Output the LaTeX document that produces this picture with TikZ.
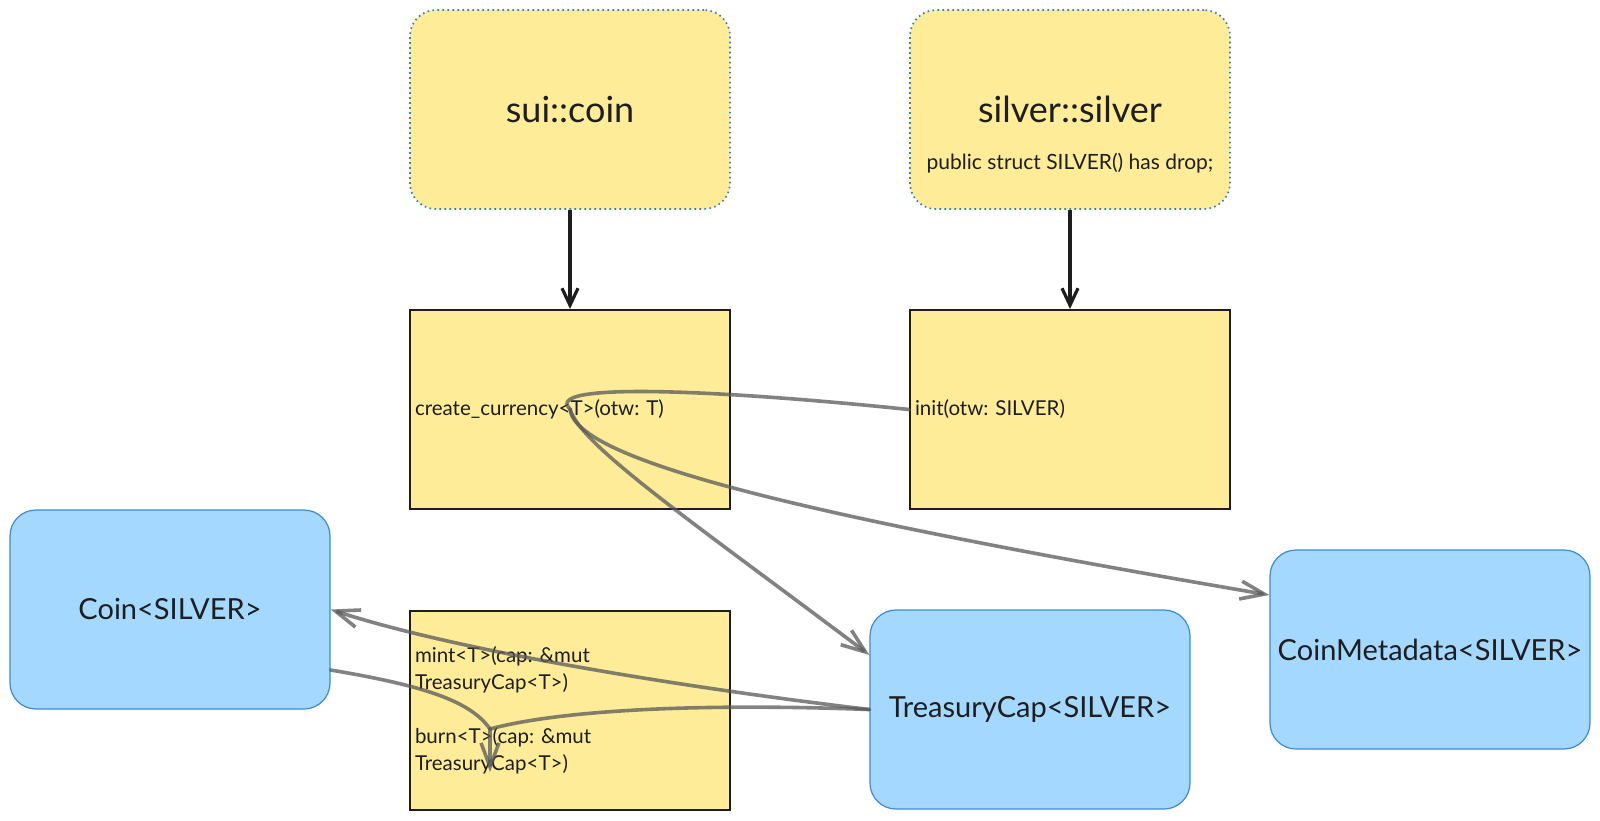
\documentclass[tikz,border=0pt]{standalone}
\usepackage{fontspec}
\setmainfont{Lato}
\usetikzlibrary{arrows.meta}
\definecolor{yel}{HTML}{FFEC99}
\definecolor{lblue}{HTML}{A5D8FF}
\definecolor{bborder}{HTML}{3C8AD6}
\definecolor{dotblue}{HTML}{2F7FD0}
\definecolor{ink}{HTML}{1E1E1E}
\frenchspacing
\begin{document}
\begin{tikzpicture}[x=1pt,y=-1pt,
  font=\fontsize{20.5}{27}\selectfont, text=ink,
  modbox/.style={rounded corners=26pt, fill=yel, draw=dotblue, line width=1.7pt,
    dash pattern=on 1.6pt off 3.4pt, minimum width=320pt, minimum height=199pt, inner sep=0pt},
  fnbox/.style={fill=yel, draw=ink, line width=2pt, minimum width=320pt, minimum height=199pt,
    text width=310pt, inner xsep=5pt, inner ysep=0pt, align=left},
  objbox/.style={rounded corners=26pt, fill=lblue, draw=bborder, line width=1.2pt,
    minimum width=320pt, minimum height=199pt, inner sep=0pt, font=\fontsize{29}{35}\selectfont},
  flow/.style={draw=black!65, draw opacity=0.75, line width=3.6pt, line cap=round},
  flowarrow/.style={flow, -{Straight Barb[length=24pt,width=18pt]}},
  dep/.style={draw=ink, line width=3.2pt, -{Straight Barb[length=17pt,width=16pt]}}
]
\useasboundingbox (0,0) rectangle (1600,820);
\fill[white] (0,0) rectangle (1600,820);

\node[modbox] (suicoin) at (570,109.5) {\fontsize{36}{42}\selectfont sui::coin};
\node[modbox] (silver) at (1070,109.5) {\fontsize{36}{42}\selectfont silver::silver};
\node[font=\fontsize{21}{27}\selectfont] (silversub) at (1070,163) {public struct SILVER() has drop;};

\node[fnbox] (create) at (570,409.5) {create\_currency<T>(otw: T)};
\node[fnbox] (init) at (1070,409.5) {init(otw: SILVER)};
\node[fnbox] (mintburn) at (570,710) {mint<T>(cap: \&mut\\TreasuryCap<T>)\\[27pt]burn<T>(cap: \&mut\\TreasuryCap<T>)};

\node[objbox] (coin) at (170,609.5) {Coin<SILVER>};
\node[objbox] (tcap) at (1030,709.5) {TreasuryCap<SILVER>};
\node[objbox] (meta) at (1430,649.5) {CoinMetadata<SILVER>};

\draw[dep] (suicoin) -- (create);
\draw[dep] (silver) -- (init);

\coordinate (cc) at (570,409);
\coordinate (tcapin) at ([yshift=54.5pt]tcap.west);
\coordinate (metain) at ([yshift=54.5pt]meta.west);
\coordinate (coinout) at ([yshift=-60.5pt]coin.east);
\coordinate (bp) at (490,729);
\coordinate (bpend) at (490,772);

\draw[flow] (init.west) .. controls (740,392) and (540,380) .. (cc);
\draw[flowarrow] (cc) .. controls (580,445) and (690,520) .. (tcapin);
\draw[flowarrow] (cc) .. controls (575,460) and (800,515) .. (metain);
\draw[flowarrow] (tcap.west) .. controls (720,692) and (470,655) .. (coin.east);
\draw[flow] (coinout) .. controls (420,685) and (470,700) .. (bp);
\draw[flow] (tcap.west) .. controls (700,703) and (560,710) .. (bp);
\draw[flowarrow] (bp) -- (bpend);
\end{tikzpicture}
\end{document}
